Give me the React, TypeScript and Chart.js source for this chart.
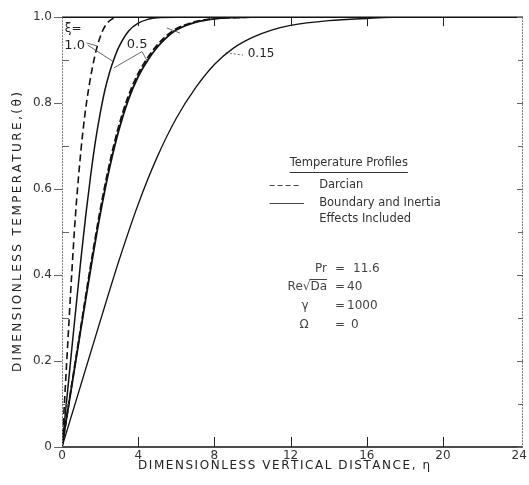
import { useEffect, useRef } from "react";
import { Chart, registerables } from "chart.js";
Chart.register(...registerables);

// ---- data (eta, theta) ----
const etaDarcy10 = [0, 0.25, 0.5, 0.7, 0.9, 1.1, 1.3, 1.5, 1.7, 1.9, 2.1, 2.3, 2.6, 3.0, 22.5];
const thetaDarcy10 = [0, 0.2, 0.395, 0.535, 0.645, 0.735, 0.805, 0.86, 0.905, 0.94, 0.965, 0.982, 0.995, 1.0, 1.0];

const etaFull10 = [0, 0.5, 1.0, 1.25, 1.5, 1.75, 2.0, 2.25, 2.5, 2.75, 3.0, 3.5, 4.0, 4.5, 5.0, 6.0, 22.5];
const thetaFull10 = [0, 0.222, 0.44, 0.54, 0.63, 0.71, 0.775, 0.83, 0.872, 0.905, 0.932, 0.968, 0.986, 0.995, 0.999, 1.0, 1.0];

const etaFull05 = [0, 0.5, 1.0, 1.5, 2.0, 2.5, 3.0, 3.5, 4.0, 4.5, 5.0, 5.5, 6.0, 7.0, 8.0, 9.0, 10.0, 22.5];
const thetaFull05 = [0, 0.139, 0.277, 0.413, 0.54, 0.65, 0.74, 0.81, 0.862, 0.9, 0.93, 0.953, 0.97, 0.988, 0.996, 0.999, 1.0, 1.0];

const etaDarcy05 = [0, 0.49, 0.98, 1.47, 1.96, 2.45, 2.94, 3.43, 3.92, 4.41, 4.9, 5.39, 5.88, 6.86, 7.84, 8.82, 9.8, 22.5];
const thetaDarcy05 = [0, 0.139, 0.277, 0.413, 0.54, 0.65, 0.74, 0.81, 0.862, 0.9, 0.93, 0.953, 0.97, 0.988, 0.996, 0.999, 1.0, 1.0];

const etaFull015 = [0, 1, 2, 3, 4, 5, 6, 7, 8, 9, 10, 11, 12, 14, 16, 18, 22.5];
const thetaFull015 = [0, 0.146, 0.292, 0.435, 0.565, 0.675, 0.765, 0.835, 0.89, 0.928, 0.953, 0.97, 0.981, 0.992, 0.997, 1.0, 1.0];

const xTicks = [0, 4, 8, 12, 16, 20, 24];
const xTickLabels = ["0", "4", "8", "12", "16", "20", "24"];
const yTicks = [0, 0.2, 0.4, 0.6, 0.8, 1.0];
const yTickLabels = ["0", "0.2", "0.4", "0.6", "0.8", "1.0"];
const yMinorTicks = [0.1, 0.3, 0.5, 0.7, 0.9];

const xTitle = "DIMENSIONLESS VERTICAL DISTANCE, \u03B7";
const yTitle = "DIMENSIONLESS TEMPERATURE,(\u03B8)";

const pts = (xs: number[], ys: number[]) => xs.map((x, i) => ({ x, y: ys[i] }));

function drawSpaced(ctx: CanvasRenderingContext2D, text: string, cx: number, cy: number, target: number) {
  const chars = Array.from(text);
  const widths = chars.map((c) => ctx.measureText(c).width);
  const total = widths.reduce((a, b) => a + b, 0);
  const sp = chars.length > 1 ? (target - total) / (chars.length - 1) : 0;
  let x = cx - target / 2;
  ctx.textAlign = "left";
  ctx.textBaseline = "middle";
  chars.forEach((c, i) => {
    ctx.fillText(c, x, cy);
    x += widths[i] + sp;
  });
}

const decor = {
  id: "decor",
  afterDraw(chart: any) {
    const ctx: CanvasRenderingContext2D = chart.ctx;
    const { left, right, top, bottom } = chart.chartArea;
    const xs = chart.scales.x;
    const ys = chart.scales.y;
    const X = (v: number) => xs.getPixelForValue(v);
    const Y = (v: number) => ys.getPixelForValue(v);
    ctx.save();

    // borders
    ctx.strokeStyle = "#111";
    ctx.lineWidth = 1.5;
    ctx.beginPath();
    ctx.moveTo(left, top); ctx.lineTo(right, top);
    ctx.moveTo(left, bottom); ctx.lineTo(right, bottom);
    ctx.stroke();
    ctx.strokeStyle = "#777";
    ctx.lineWidth = 1;
    ctx.setLineDash([2, 1]);
    ctx.beginPath();
    ctx.moveTo(left + 0.5, top); ctx.lineTo(left + 0.5, bottom);
    ctx.moveTo(right - 0.5, top); ctx.lineTo(right - 0.5, bottom);
    ctx.stroke();
    ctx.setLineDash([]);

    // ticks
    ctx.strokeStyle = "#222";
    ctx.lineWidth = 1;
    ctx.beginPath();
    xTicks.forEach((v) => {
      if (v === 0 || v === 24) return;
      const px = Math.round(X(v)) + 0.5;
      ctx.moveTo(px, bottom); ctx.lineTo(px, bottom - 10);
      ctx.moveTo(px, top); ctx.lineTo(px, top + 9);
    });
    ctx.stroke();
    ctx.strokeStyle = "#666";
    ctx.beginPath();
    yTicks.forEach((v) => {
      const py = Math.round(Y(v)) + 0.5;
      ctx.moveTo(left - 8, py); ctx.lineTo(left, py);
      ctx.moveTo(right, py); ctx.lineTo(right - 6, py);
    });
    yMinorTicks.forEach((v) => {
      const py = Math.round(Y(v)) + 0.5;
      ctx.moveTo(left, py); ctx.lineTo(left + 7, py);
      ctx.moveTo(right, py); ctx.lineTo(right - 5, py);
    });
    ctx.stroke();

    // axis titles
    ctx.fillStyle = "#222";
    ctx.font = "12px 'DejaVu Sans'";
    drawSpaced(ctx, xTitle, 284, 466, 292);
    ctx.save();
    ctx.translate(18, (top + bottom) / 2);
    ctx.rotate(-Math.PI / 2);
    drawSpaced(ctx, yTitle, 0, 0, 280);
    ctx.restore();

    // curve labels
    ctx.fillStyle = "#222";
    ctx.font = "12px 'DejaVu Sans'";
    ctx.textAlign = "left";
    ctx.textBaseline = "middle";
    ctx.fillText("\u03BE=", X(0.15), Y(0.972));
    ctx.font = "13px 'DejaVu Sans'";
    ctx.fillText("1.0", X(0.12), Y(0.935));
    ctx.fillText("0.5", X(3.4), Y(0.937));
    ctx.font = "12px 'DejaVu Sans'";
    ctx.fillText("0.15", X(9.75), Y(0.915));

    ctx.strokeStyle = "#444";
    ctx.lineWidth = 0.8;
    ctx.beginPath();
    ctx.moveTo(X(1.3), Y(0.94)); ctx.lineTo(X(1.85), Y(0.933));
    ctx.moveTo(X(1.35), Y(0.935)); ctx.lineTo(X(2.68), Y(0.897));
    ctx.moveTo(X(4.2), Y(0.92)); ctx.lineTo(X(2.72), Y(0.882));
    ctx.moveTo(X(4.2), Y(0.92)); ctx.lineTo(X(4.45), Y(0.9));
    ctx.moveTo(X(5.5), Y(0.975)); ctx.lineTo(X(6.2), Y(0.963));
    ctx.stroke();
    ctx.setLineDash([2, 2]);
    ctx.beginPath();
    ctx.moveTo(X(8.6), Y(0.917)); ctx.lineTo(X(9.5), Y(0.912));
    ctx.stroke();
    ctx.setLineDash([]);

    // legend block
    ctx.fillStyle = "#333";
    ctx.font = "11.5px 'DejaVu Sans'";
    ctx.textAlign = "left";
    ctx.textBaseline = "middle";
    const lx = X(11.95);
    const tp = "Temperature Profiles";
    ctx.fillText(tp, lx, 163);
    const tw = ctx.measureText(tp).width;
    ctx.strokeStyle = "#333";
    ctx.lineWidth = 1;
    ctx.beginPath();
    ctx.moveTo(lx, 172.5); ctx.lineTo(lx + tw, 172.5);
    ctx.stroke();

    ctx.strokeStyle = "#444";
    ctx.setLineDash([5, 3]);
    ctx.beginPath();
    ctx.moveTo(X(10.9), 185.5); ctx.lineTo(X(12.5), 185.5);
    ctx.stroke();
    ctx.setLineDash([]);
    ctx.beginPath();
    ctx.moveTo(X(10.9), 203.5); ctx.lineTo(X(12.7), 203.5);
    ctx.stroke();
    const tx = X(13.5);
    ctx.fillText("Darcian", tx, 185);
    ctx.fillText("Boundary and Inertia", tx, 203);
    ctx.fillText("Effects Included", tx, 219);

    // parameters
    ctx.fillStyle = "#444";
    ctx.font = "12px 'DejaVu Sans'";
    const eqX = 340;
    const valX = 347;
    const rowY = [269, 287, 306, 325];
    ctx.textAlign = "center";
    rowY.forEach((yy) => ctx.fillText("=", eqX, yy));
    ctx.textAlign = "left";
    ctx.fillText("11.6", valX + 6, rowY[0]);
    ctx.fillText("40", valX, rowY[1]);
    ctx.fillText("1000", valX, rowY[2]);
    ctx.fillText("0", valX + 4, rowY[3]);
    ctx.textAlign = "right";
    ctx.fillText("Pr", 327, rowY[0]);
    const reTxt = "Re\u221ADa";
    ctx.fillText(reTxt, 327, rowY[1]);
    const daW = ctx.measureText("Da").width;
    ctx.strokeStyle = "#444";
    ctx.beginPath();
    ctx.moveTo(327 - daW - 1, rowY[1] - 7.5); ctx.lineTo(327, rowY[1] - 7.5);
    ctx.stroke();
    ctx.textAlign = "center";
    ctx.fillText("\u03B3", 305, rowY[2]);
    ctx.fillText("\u03A9", 304, rowY[3]);

    ctx.restore();
  },
};

export default function App() {
  const ref = useRef<HTMLCanvasElement | null>(null);
  useEffect(() => {
    if (!ref.current) return;
    const common = { pointRadius: 0, borderColor: "#111", fill: false, cubicInterpolationMode: "monotone" as const };
    const chart = new Chart(ref.current, {
      type: "line",
      data: {
        datasets: [
          { ...common, label: "Darcian \u03BE=1.0", data: pts(etaDarcy10, thetaDarcy10), borderWidth: 1.6, borderDash: [7, 4] },
          { ...common, label: "Full \u03BE=1.0", data: pts(etaFull10, thetaFull10), borderWidth: 1.5 },
          { ...common, label: "Darcian \u03BE=0.5", data: pts(etaDarcy05, thetaDarcy05), borderWidth: 1.8, borderDash: [7, 3] },
          { ...common, label: "Full \u03BE=0.5", data: pts(etaFull05, thetaFull05), borderWidth: 1.8 },
          { ...common, label: "Full \u03BE=0.15", data: pts(etaFull015, thetaFull015), borderWidth: 1.3 },
        ],
      },
      options: {
        animation: false,
        responsive: false,
        layout: { padding: { top: 16, right: 6, left: 0, bottom: 0 } },
        plugins: { legend: { display: false }, tooltip: { enabled: false }, title: { display: false } },
        scales: {
          x: {
            type: "linear",
            min: 0,
            max: 24.2,
            grid: { display: false, drawTicks: false },
            border: { display: false },
            afterBuildTicks: (s: any) => { s.ticks = xTicks.map((v) => ({ value: v })); },
            afterFit: (s: any) => { s.height = 38; },
            ticks: {
              padding: 2,
              autoSkip: false,
              maxRotation: 0,
              color: "#333",
              font: { family: "'DejaVu Sans'", size: 12 },
              callback: (v: any) => xTickLabels[xTicks.indexOf(Number(v))] ?? "",
            },
          },
          y: {
            type: "linear",
            min: 0,
            max: 1,
            grid: { display: false, drawTicks: false },
            border: { display: false },
            afterBuildTicks: (s: any) => { s.ticks = yTicks.map((v) => ({ value: v })); },
            afterFit: (s: any) => { s.width = 62; },
            ticks: {
              padding: 10,
              autoSkip: false,
              color: "#333",
              font: { family: "'DejaVu Sans'", size: 12 },
              callback: (v: any) => {
                const i = yTicks.findIndex((t) => Math.abs(t - Number(v)) < 1e-6);
                return i >= 0 ? yTickLabels[i] : "";
              },
            },
          },
        },
      },
      plugins: [decor],
    });
    return () => chart.destroy();
  }, []);
  return (
    <div style={{ position: "fixed", left: 0, top: 0, width: 529, height: 485, background: "#fff" }}>
      <canvas ref={ref} width={529} height={485} />
    </div>
  );
}
